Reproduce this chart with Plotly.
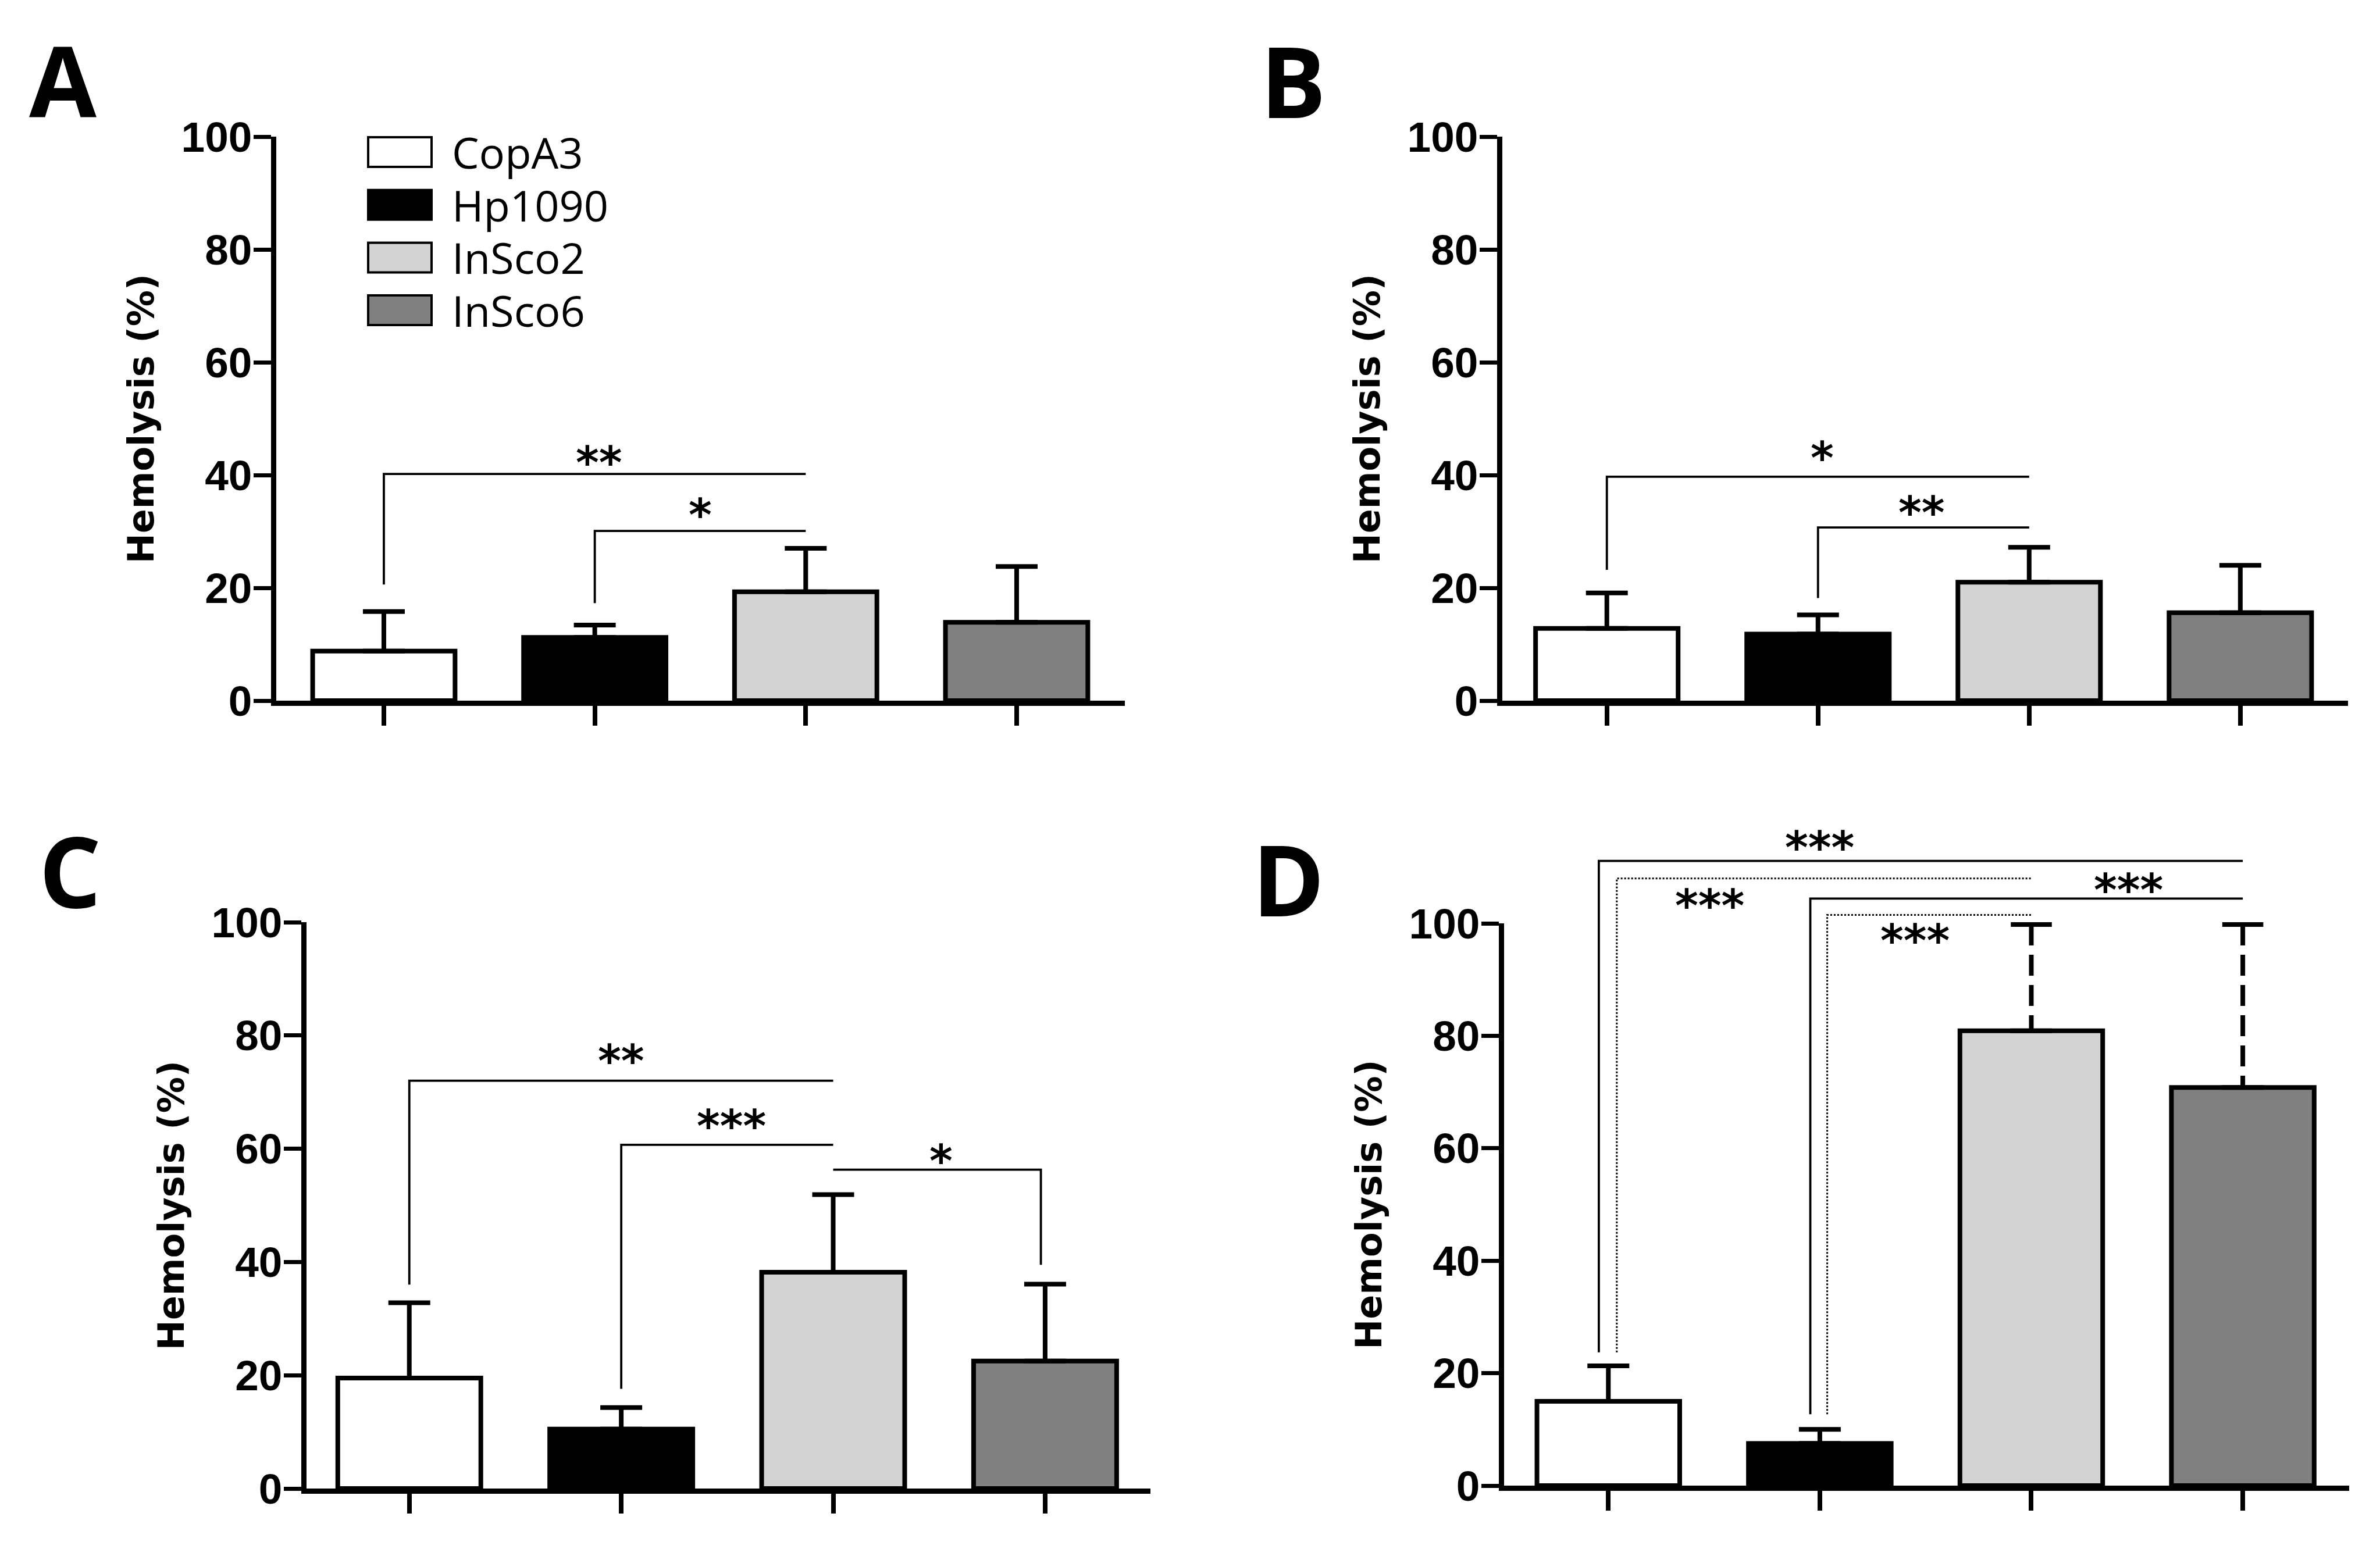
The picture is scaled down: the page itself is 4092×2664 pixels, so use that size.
import plotly.graph_objects as go

# groups and fill colours
groups = ["CopA3", "Hp1090", "InSco2", "InSco6"]
colors = ["#ffffff", "#000000", "#d3d3d3", "#808080"]
cats = [0, 1, 2, 3]

# mean hemolysis (%) and upper SD per panel
a_mean = [8.8, 11.2, 19.3, 13.9]
a_err = [7.0, 2.2, 7.7, 9.9]
b_mean = [12.8, 11.8, 21.0, 15.6]
b_err = [6.3, 3.4, 6.2, 8.4]
c_mean = [19.5, 10.5, 38.2, 22.5]
c_err = [13.3, 3.8, 13.7, 13.6]
d_mean = [15.0, 7.5, 80.9, 70.8]
d_err = [6.3, 2.5, 18.9, 29.0]
d_dashed = [False, False, True, True]   # error bars drawn dashed in D

# brackets: (x left, left foot, top, x right, right foot, dash)
a_brackets = [(0, 20.6, 40.2, 2, None, "solid"),
              (1, 17.3, 30.1, 2, None, "solid")]
b_brackets = [(0, 23.2, 39.7, 2, None, "solid"),
              (1, 18.2, 30.7, 2, None, "solid")]
c_brackets = [(0, 36.0, 72.0, 2, None, "solid"),
              (1, 17.6, 60.7, 2, None, "solid"),
              (2, None, 56.3, 2.98, 39.5, "solid")]
d_brackets = [(-0.045, 23.7, 111.1, 3, None, "solid"),
              (0.04, 23.7, 108.0, 2, None, "dot"),
              (0.955, 12.7, 104.4, 3, None, "solid"),
              (1.035, 12.7, 101.5, 2, None, "dot")]

# significance stars: (x, y, text)
a_stars = [(1.02, 43.0, "**"), (1.5, 33.8, "*")]
b_stars = [(1.02, 43.9, "*"), (1.49, 34.2, "**")]
c_stars = [(1.0, 76.3, "**"), (1.52, 64.8, "***"), (2.51, 58.7, "*")]
d_stars = [(1.0, 114.3, "***"), (0.48, 104.0, "***"),
           (2.46, 106.8, "***"), (1.45, 97.8, "***")]

yticks = [0, 20, 40, 60, 80, 100]

# page pixels -> paper fractions (the page body adds an 8px margin)
PAD = 8
W, H = 4092 - 2 * PAD, 2664 - 2 * PAD


def fx(v):
    return (v - PAD) / W


def fy(v):
    return 1 - (v - PAD) / H


panels = [
    dict(letter="A", mean=a_mean, err=a_err, dashed=[False] * 4,
         brackets=a_brackets, stars=a_stars,
         xdom=(475, 1934), ydom=(235, 1205), xr=(-0.51, 3.513), lpos=(108, 136)),
    dict(letter="B", mean=b_mean, err=b_err, dashed=[False] * 4,
         brackets=b_brackets, stars=b_stars,
         xdom=(2583, 4037), ydom=(235, 1205), xr=(-0.495, 3.51), lpos=(2223, 138)),
    dict(letter="C", mean=c_mean, err=c_err, dashed=[False] * 4,
         brackets=c_brackets, stars=c_stars,
         xdom=(527, 1978), ydom=(1586, 2560), xr=(-0.485, 3.497), lpos=(120, 1495)),
    dict(letter="D", mean=d_mean, err=d_err, dashed=d_dashed,
         brackets=d_brackets, stars=d_stars,
         xdom=(2586, 4039), ydom=(1588, 2555), xr=(-0.493, 3.503), lpos=(2215, 1510)),
]

fig = go.Figure()
layout = {}
annotations = []
shapes = []

for i, p in enumerate(panels, start=1):
    sfx = "" if i == 1 else str(i)
    xa, ya = "x" + sfx, "y" + sfx
    ydom = [fy(p["ydom"][1]), fy(p["ydom"][0])]

    # extra invisible y axis (same scale, taller domain) for marks above 100
    top_px = 1340 if i == 4 else p["ydom"][0]
    ydom_hi = [ydom[0], fy(top_px)]
    yhi_range = 100 * (ydom_hi[1] - ydom_hi[0]) / (ydom[1] - ydom[0])
    yb = "y" + str(4 + i)

    solid_err = [0 if d else e for e, d in zip(p["err"], p["dashed"])]
    fig.add_trace(go.Bar(
        x=cats, y=p["mean"], width=0.675, xaxis=xa, yaxis=ya,
        hovertext=groups, cliponaxis=False, showlegend=False,
        marker=dict(color=colors, line=dict(color="black", width=8)),
        error_y=dict(type="data", symmetric=False, array=solid_err,
                     arrayminus=[0] * 4, color="black", thickness=8, width=36),
    ))

    # dashed error bars (stem dashed from the cap down, solid cap)
    for c, m, e, d in zip(cats, p["mean"], p["err"], p["dashed"]):
        if not d:
            continue
        fig.add_trace(go.Scatter(
            x=[c, c], y=[m + e, m], mode="lines", xaxis=xa, yaxis=yb,
            line=dict(color="black", width=8, dash="36px,16px"),
            showlegend=False, hoverinfo="skip"))
        fig.add_trace(go.Scatter(
            x=[c - 0.097, c + 0.097], y=[m + e, m + e], mode="lines",
            xaxis=xa, yaxis=yb, line=dict(color="black", width=8),
            showlegend=False, hoverinfo="skip"))

    for xl, lb, top, xr, rb, dash in p["brackets"]:
        bx, by = [], []
        if lb is not None:
            bx.append(xl)
            by.append(lb)
        bx += [xl, xr]
        by += [top, top]
        if rb is not None:
            bx.append(xr)
            by.append(rb)
        fig.add_trace(go.Scatter(
            x=bx, y=by, mode="lines", xaxis=xa, yaxis=yb,
            line=dict(color="black", width=3.8 if dash == "solid" else 3, dash=dash),
            showlegend=False, hoverinfo="skip"))

    for sx, sy, txt in p["stars"]:
        annotations.append(dict(
            x=sx, y=sy, xref=xa, yref=yb, text=txt, showarrow=False,
            xanchor="center", yanchor="middle", yshift=-8,
            font=dict(family="DejaVu Sans", size=76, color="black", weight="bold")))

    annotations.append(dict(
        x=fx(p["lpos"][0]), y=fy(p["lpos"][1]), xref="paper", yref="paper",
        text=p["letter"], showarrow=False, xanchor="center", yanchor="middle",
        font=dict(family="Open Sans", size=168, color="black", weight="bold")))

    layout["xaxis" + sfx] = dict(
        domain=[fx(p["xdom"][0]), fx(p["xdom"][1])], range=list(p["xr"]),
        anchor=ya, showline=True, linewidth=9, linecolor="black",
        ticks="outside", ticklen=34, tickwidth=8, tickcolor="black",
        tickvals=cats, showticklabels=False, showgrid=False, zeroline=False,
        fixedrange=True)
    layout["yaxis" + sfx] = dict(
        domain=ydom, range=[0, 100], anchor=xa, showline=True, linewidth=9,
        linecolor="black", ticks="outside", ticklen=30, tickwidth=7,
        tickcolor="black", tickvals=yticks, showgrid=False, zeroline=False,
        ticklabelstandoff=-12,
        tickfont=dict(family="Liberation Sans", size=73, color="black", weight="bold"),
        title=dict(text="Hemolysis (%)", standoff=30,
                   font=dict(family="DejaVu Sans", size=62, color="black", weight="bold")),
        automargin=False)
    layout["yaxis" + str(4 + i)] = dict(
        domain=ydom_hi, range=[0, yhi_range], anchor=xa, visible=False,
        showgrid=False, zeroline=False)

# legend drawn in panel A
leg_top, leg_step, leg_h = 236, 90.7, 51
for k, (g, col) in enumerate(zip(groups, colors)):
    y0 = leg_top + k * leg_step
    shapes.append(dict(type="rect", xref="paper", yref="paper",
                       x0=fx(633), x1=fx(742), y0=fy(y0 + leg_h), y1=fy(y0),
                       fillcolor=col, line=dict(color="black", width=4)))
    annotations.append(dict(
        x=fx(775), y=fy(y0 + leg_h / 2), xref="paper", yref="paper", text=g,
        showarrow=False, xanchor="left", yanchor="middle",
        font=dict(family="Open Sans", size=74, color="black")))

fig.update_layout(
    width=W, height=H, margin=dict(l=0, r=0, t=0, b=0),
    paper_bgcolor="white", plot_bgcolor="rgba(0,0,0,0)",
    showlegend=False, annotations=annotations, shapes=shapes, **layout)

fig.write_html("out.html")
